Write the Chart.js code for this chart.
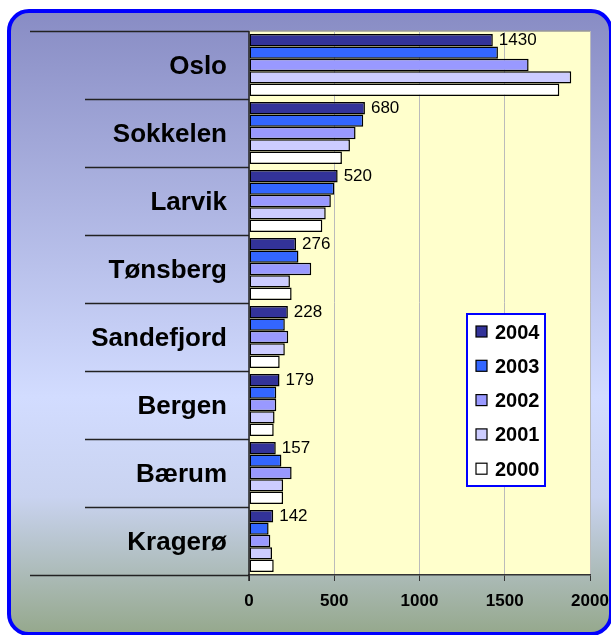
<!DOCTYPE html>
<html lang="no">
<head>
    <meta charset="UTF-8">
    <title>Kommuner 2000-2004</title>
    <style>
        body { margin: 0; background: #ffffff; }
        #wrap { width: 611px; height: 635px; }
    </style>
</head>
<body>
    <div id="wrap">
        <canvas id="chart" width="611" height="635"></canvas>
    </div>

    <script src="https://cdn.jsdelivr.net/npm/chart.js@4.4.3/dist/chart.umd.min.js"></script>
    <script>
        // kategorier og verdier (lest av bildet)
        const kommuner = ['Oslo', 'Sokkelen', 'Larvik', 'Tønsberg', 'Sandefjord', 'Bergen', 'Bærum', 'Kragerø'];
        const aar = ['2004', '2003', '2002', '2001', '2000'];
        const v2004 = [1430, 680, 520, 276, 228, 179, 157, 142];
        const v2003 = [1460, 670, 500, 290, 210, 160, 190, 115];
        const v2002 = [1640, 625, 480, 365, 230, 160, 250, 125];
        const v2001 = [1890, 592, 450, 240, 210, 150, 200, 135];
        const v2000 = [1820, 545, 430, 250, 180, 145, 200, 145];
        const xTicks = [0, 500, 1000, 1500, 2000];

        const farger = ['#333399', '#3366FF', '#9999FF', '#CCCCFF', '#FFFFFF'];
        const serier = [v2004, v2003, v2002, v2001, v2000];
        const FONT = '"Liberation Sans", Arial, sans-serif';

        // bakgrunn med avrundet ramme + gult plotområde
        const bakgrunn = {
            id: 'bakgrunn',
            beforeDraw(chart) {
                const ctx = chart.ctx;
                const a = chart.chartArea;
                ctx.save();
                ctx.fillStyle = '#ffffff';
                ctx.fillRect(0, 0, chart.width, chart.height);

                const g = ctx.createLinearGradient(0, 11, 0, 634);
                g.addColorStop(0, '#888CC4');
                g.addColorStop(0.62, '#D2DCFF');
                g.addColorStop(0.78, '#C9D3F0');
                g.addColorStop(1, '#95A88C');
                ctx.beginPath();
                ctx.roundRect(9, 11, 602, 623, 20);
                ctx.fillStyle = g;
                ctx.fill();
                ctx.lineWidth = 4;
                ctx.strokeStyle = '#0000FF';
                ctx.stroke();

                ctx.fillStyle = '#FFFFCC';
                ctx.fillRect(a.left, a.top, a.right - a.left, a.bottom - a.top);
                ctx.strokeStyle = '#999999';
                ctx.lineWidth = 1.5;
                ctx.beginPath();
                ctx.moveTo(a.left, a.top);
                ctx.lineTo(a.right, a.top);
                ctx.stroke();
                ctx.restore();
            }
        };

        // skillelinjer mellom kategoriene, verdietiketter og forklaring
        const pynt = {
            id: 'pynt',
            afterDatasetsDraw(chart) {
                const ctx = chart.ctx;
                const a = chart.chartArea;
                const y = chart.scales.y;
                const catH = (y.bottom - y.top) / kommuner.length;
                ctx.save();
                ctx.strokeStyle = '#222222';
                ctx.lineWidth = 1.5;
                for (let i = 0; i <= kommuner.length; i++) {
                    const py = Math.round(y.getPixelForValue(Math.min(i, kommuner.length - 1)) + (i === kommuner.length ? catH / 2 : -catH / 2));
                    const x0 = (i === 0 || i === kommuner.length) ? a.left - 219 : a.left - 164;
                    ctx.beginPath();
                    ctx.moveTo(x0, py + 0.5);
                    ctx.lineTo(a.left, py + 0.5);
                    ctx.stroke();
                }
                ctx.beginPath();
                ctx.moveTo(a.left, a.top);
                ctx.lineTo(a.left, a.bottom + 6);
                ctx.stroke();

                // verdier for 2004
                const meta = chart.getDatasetMeta(0);
                ctx.fillStyle = '#000000';
                ctx.font = '17px ' + FONT;
                ctx.textBaseline = 'middle';
                ctx.textAlign = 'left';
                meta.data.forEach((bar, i) => {
                    ctx.fillText(String(v2004[i]), bar.x + 6, bar.y);
                });

                // forklaring
                const bx = a.left + 218, by = a.top + 283, bw = 78, bh = 172;
                ctx.fillStyle = '#FFFFFF';
                ctx.fillRect(bx, by, bw, bh);
                ctx.strokeStyle = '#0000FF';
                ctx.lineWidth = 2;
                ctx.strokeRect(bx, by, bw, bh);
                ctx.font = 'bold 20px ' + FONT;
                chart.data.datasets.forEach((ds, i) => {
                    const cy = by + 18 + i * 34.3;
                    ctx.fillStyle = ds.backgroundColor;
                    ctx.fillRect(bx + 9, cy - 6, 11, 11);
                    ctx.strokeStyle = '#000000';
                    ctx.lineWidth = 1.2;
                    ctx.strokeRect(bx + 9, cy - 6, 11, 11);
                    ctx.fillStyle = '#000000';
                    ctx.fillText(ds.label, bx + 28, cy + 1);
                });
                ctx.restore();
            }
        };

        const config = {
            type: 'bar',
            data: {
                labels: kommuner,
                datasets: aar.map((a, i) => ({
                    label: a,
                    data: serier[i],
                    backgroundColor: farger[i],
                    borderColor: '#000000',
                    borderWidth: 1.5,
                    borderSkipped: false,
                    categoryPercentage: 0.91,
                    barPercentage: 1.0
                }))
            },
            options: {
                indexAxis: 'y',
                responsive: false,
                animation: false,
                layout: { autoPadding: false, padding: { top: 31, right: 21, bottom: 0, left: 0 } },
                scales: {
                    x: {
                        min: 0,
                        max: 2000,
                        afterBuildTicks: (s) => { s.ticks = xTicks.map(v => ({ value: v })); },
                        afterFit: (s) => { s.height = 60; s.paddingLeft = 0; s.paddingRight = 0; },
                        grid: { color: '#BBBBBB', lineWidth: 1, tickColor: '#333333', tickLength: 6 },
                        border: { color: '#333333', width: 1.5 },
                        ticks: {
                            color: '#000000',
                            font: { family: FONT, size: 17, weight: 'bold' },
                            padding: 10,
                            maxRotation: 0,
                            callback: (v) => String(v)
                        }
                    },
                    y: {
                        afterFit: (s) => { s.width = 249; s.paddingTop = 0; s.paddingBottom = 0; },
                        grid: { display: false, drawTicks: false },
                        border: { display: false },
                        ticks: { color: '#000000', font: { family: FONT, size: 26, weight: 'bold' }, padding: 22, labelOffset: 2 }
                    }
                },
                plugins: {
                    legend: { display: false },
                    tooltip: { enabled: false }
                }
            },
            plugins: [bakgrunn, pynt]
        };

        new Chart(document.getElementById('chart'), config);
    </script>
</body>
</html>
